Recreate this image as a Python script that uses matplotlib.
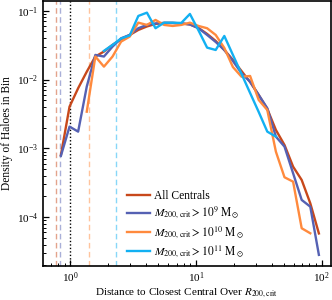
import matplotlib
matplotlib.use("Agg")
import matplotlib.pyplot as plt
import numpy as np

plt.rcParams['font.family'] = ['Liberation Serif', 'DejaVu Serif']
plt.rcParams['mathtext.fontset'] = 'stix'

# bin centres (distance / R200,crit)
bin_centres = [0.839, 0.983, 1.151, 1.348, 1.578, 1.847, 2.163, 2.532, 2.965, 3.471,
               4.064, 4.759, 5.572, 6.524, 7.638, 8.943, 10.47, 12.26, 14.35, 16.81,
               19.68, 23.04, 26.98, 31.59, 36.98, 43.30, 50.70, 59.36, 69.50, 81.38, 95.28]

all_centrals = [8.0e-4, 4.04e-3, 7.48e-3, 0.0130, 0.0216, 0.0255, 0.0319, 0.0385, 0.0445, 0.0526,
                0.0591, 0.0643, 0.0665, 0.0665, 0.0654, 0.0632, 0.0562, 0.0460, 0.0364, 0.0269,
                0.0193, 0.0133, 0.0092, 5.97e-3, 3.74e-3, 1.85e-3, 1.12e-3, 5.42e-4, 3.47e-4, 1.59e-4, 5.8e-5]

m9 = [7.8e-4, 2.07e-3, 1.75e-3, 7.9e-3, 0.0228, 0.0216, 0.0301, 0.0398, 0.0445, 0.0557,
      0.0622, 0.0654, 0.0665, 0.0665, 0.0654, 0.0632, 0.0557, 0.0445, 0.0352, 0.0269,
      0.0186, 0.01236, 0.0093, 5.97e-3, 3.83e-3, 1.48e-3, 1.06e-3, 4.35e-4, 1.78e-4, 1.42e-4, 2.83e-5]

m10_x = bin_centres[3:30]
m10 = [3.41e-3, 0.0216, 0.0154, 0.0216, 0.0356, 0.0421, 0.0671, 0.0622, 0.0735, 0.0622,
       0.0601, 0.0622, 0.0671, 0.0601, 0.0557, 0.0445, 0.0288, 0.0152, 0.0110, 0.01127,
       5.05e-3, 3.61e-3, 8.95e-4, 3.8e-4, 3.28e-4, 6.9e-5, 5.83e-5]

m11_x = bin_centres[5:26]
m11 = [0.0261, 0.0319, 0.0395, 0.0437, 0.0840, 0.0938, 0.0557, 0.0671, 0.0670, 0.0665,
       0.0898, 0.0518, 0.0291, 0.0269, 0.0430, 0.0228, 0.0121, 6.38e-3, 3.38e-3, 1.75e-3, 1.48e-3]

# convergence radii (vertical dashed lines)
vlines = [0.762, 0.825, 1.404, 2.305]

c_all = '#c8481b'
c9 = '#5561b3'
c10 = '#ff8a3d'
c11 = '#12b0f2'

fig = plt.figure(figsize=(3.32, 3.0), dpi=100)
ax = fig.add_axes([0.1295, 0.1133, 0.8675, 0.8837])

ax.axvline(1.0, color='black', ls=(0, (1, 1.5)), lw=1.0)
for xv, c in zip(vlines, [c_all, c9, c10, c11]):
    ax.axvline(xv, color=c, ls=(0, (4, 2.5)), lw=1.0, alpha=0.5)

lw = 1.7
ax.plot(bin_centres, all_centrals, color=c_all, lw=lw, label='All Centrals')
ax.plot(bin_centres, m9, color=c9, lw=lw, label=r'$M_{200,\mathrm{crit}} > 10^{9}\ \mathrm{M}_\odot$')
ax.plot(m10_x, m10, color=c10, lw=lw, label=r'$M_{200,\mathrm{crit}} > 10^{10}\ \mathrm{M}_\odot$')
ax.plot(m11_x, m11, color=c11, lw=lw, label=r'$M_{200,\mathrm{crit}} > 10^{11}\ \mathrm{M}_\odot$')

ax.set_xscale('log')
ax.set_yscale('log')
ax.set_xlim(0.604, 119)
ax.set_ylim(1.95e-5, 0.139)

ax.set_xlabel(r'Distance to Closest Central Over $R_{200,\mathrm{crit}}$', fontsize=8, labelpad=1.5)
ax.set_ylabel('Density of Haloes in Bin', fontsize=8.3, labelpad=2.5)
ax.tick_params(which='both', direction='in', labelsize=8)
ax.tick_params(axis='x', which='both', pad=3)
ax.tick_params(which='major', length=4, width=0.9)
ax.tick_params(which='minor', length=2, width=0.7)
for s in ax.spines.values():
    s.set_linewidth(1.2)

leg = ax.legend(loc='lower left', frameon=False, fontsize=8.3, handlelength=2.0,
                handletextpad=0.3, borderaxespad=0.0, borderpad=0.0, labelspacing=0.2,
                bbox_to_anchor=(0.292, 0.024))

fig.savefig('out.png', dpi=100)
